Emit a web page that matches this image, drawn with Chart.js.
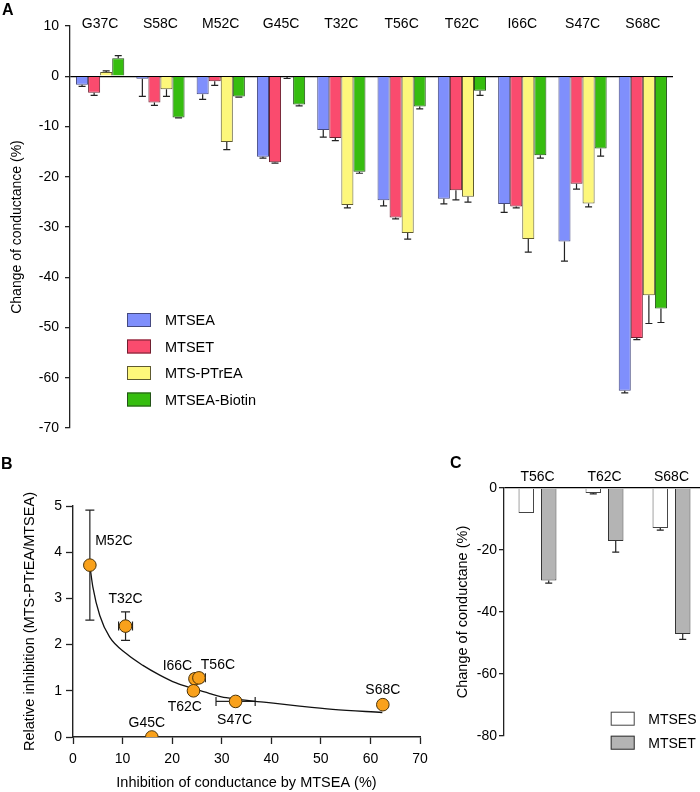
<!DOCTYPE html>
<html><head><meta charset="utf-8">
<script src="https://cdn.jsdelivr.net/npm/chart.js@4.4.1/dist/chart.umd.min.js"></script>
<style>
html,body{margin:0;padding:0;background:#fff;overflow:hidden;}
#wrap{position:relative;width:700px;height:792px;overflow:hidden;font-family:"Liberation Sans",Arial,sans-serif;}
canvas{position:absolute;}
.pl{position:absolute;font-weight:bold;font-size:16px;line-height:16px;color:#000;}
</style></head>
<body><div id="wrap">
<canvas id="cA" width="700" height="445" style="left:0;top:0"></canvas>
<canvas id="cB" width="440" height="322" style="left:0;top:470px"></canvas>
<canvas id="cC" width="255" height="300" style="left:450px;top:455px"></canvas>
<div class="pl" style="left:2px;top:2px">A</div>
<div class="pl" style="left:1px;top:456px">B</div>
<div class="pl" style="left:450px;top:455px">C</div>
</div>
<script>
// ---------- Panel A data ----------
const mutantsA = ['G37C','S58C','M52C','G45C','T32C','T56C','T62C','I66C','S47C','S68C'];
const mtsea      = [-1.7, -0.5, -3.6, -16.0, -10.7, -24.7, -24.4, -25.4, -32.9, -62.6];
const mtseaErr   = [0.3, 3.5, 1.0, 0.3, 1.4, 1.1, 1.0, 1.7, 3.9, 0.4];
const mtset      = [-3.3, -5.2, -1.0, -17.1, -12.3, -28.1, -22.7, -25.9, -21.4, -52.1];
const mtsetErr   = [0.5, 0.6, 0.8, 0.2, 0.5, 0.3, 1.9, 0.3, 1.05, 0.3];
const mtsPtrea   = [0.85, -2.6, -13.1, -0.15, -25.6, -31.2, -24.0, -32.4, -25.3, -43.6];
const mtsPtreaErr= [0.2, 1.4, 1.5, 0.3, 0.6, 1.2, 1.05, 2.6, 0.7, 5.6];
const biotin     = [3.6, -8.2, -4.05, -5.6, -19.0, -6.0, -2.9, -15.7, -14.4, -46.2];
const biotinErr  = [0.5, 0.1, 0.1, 0.3, 0.3, 0.5, 0.9, 0.6, 1.5, 2.8];
const ticksA = [10, 0, -10, -20, -30, -40, -50, -60, -70];

// ---------- Panel B data ----------
const mutantsB = ['M52C','T32C','I66C','T56C','T62C','S47C','G45C','S68C'];
const inhibX   = [3.4, 10.6, 24.6, 25.4, 24.3, 32.8, 15.9, 62.5];
const relInhY  = [3.72, 2.40, 1.26, 1.28, 1.00, 0.77, 0.00, 0.70];
const inhibXErr= [0.4, 1.4, 0.9, 1.3, 0.8, 3.95, 0, 0];
const relInhErr= [1.19, 0.31, 0.1, 0.1, 0, 0, 0, 0];
const fitX = [3.4, 4.0, 5.4, 7.4, 10.8, 14.1, 17.5, 20.8, 24.2, 27.6, 30.9, 39.0, 45.7, 52.4, 62.4];
const fitY = [3.71, 3.25, 2.63, 2.16, 1.80, 1.55, 1.34, 1.17, 1.05, 0.94, 0.85, 0.75, 0.67, 0.60, 0.53];

// ---------- Panel C data ----------
const mutantsC = ['T56C','T62C','S68C'];
const mtsesC    = [-8.1, -1.6, -12.9];
const mtsesCErr = [0, 0.3, 0.7];
const mtsetC    = [-29.8, -17.1, -47.1];
const mtsetCErr = [0.9, 3.6, 1.7];

// ---------- styles ----------
const FONT = '"Liberation Sans", Arial, sans-serif';
const AX = '#222';

const errorBars = {
  id: 'errorBars',
  afterDatasetsDraw(chart, args, opts) {
    const ctx = chart.ctx, ys = chart.scales.y;
    chart.data.datasets.forEach((ds, di) => {
      if (!ds.errors) return;
      const meta = chart.getDatasetMeta(di);
      meta.data.forEach((bar, i) => {
        const v = ds.data[i], e = ds.errors[i];
        if (!e) return;
        const end = v + (v < 0 ? -e : e);
        const x = bar.x, y0 = ys.getPixelForValue(v), y1 = ys.getPixelForValue(end);
        ctx.save();
        ctx.strokeStyle = opts.color; ctx.lineWidth = opts.width;
        ctx.beginPath();
        ctx.moveTo(x, y0); ctx.lineTo(x, y1);
        ctx.moveTo(x - opts.cap / 2, y1); ctx.lineTo(x + opts.cap / 2, y1);
        ctx.stroke(); ctx.restore();
      });
    });
  }
};

const topLabels = {
  id: 'topLabels',
  afterDraw(chart, args, opts) {
    const ctx = chart.ctx, xs = chart.scales.x;
    ctx.save();
    ctx.font = opts.font; ctx.fillStyle = '#000';
    ctx.textAlign = 'center'; ctx.textBaseline = 'middle';
    chart.data.labels.forEach((l, i) => ctx.fillText(l, xs.getPixelForValue(i), opts.y));
    ctx.restore();
  }
};

const boxLegend = {
  id: 'boxLegend',
  afterDraw(chart, args, opts) {
    const ctx = chart.ctx;
    ctx.save();
    ctx.font = opts.font; ctx.textBaseline = 'middle'; ctx.textAlign = 'left';
    chart.data.datasets.forEach((ds, i) => {
      const cy = opts.y + i * opts.gap;
      ctx.fillStyle = ds.backgroundColor;
      ctx.fillRect(opts.x, cy - 7, 24, 14);
      ctx.strokeStyle = ds.borderColor; ctx.lineWidth = 1;
      ctx.strokeRect(opts.x + 0.5, cy - 6.5, 23, 13);
      ctx.fillStyle = '#000';
      ctx.fillText(ds.label, opts.x + opts.textDx, cy + 1);
    });
    ctx.restore();
  }
};

// ---------- Chart A ----------
new Chart(document.getElementById('cA'), {
  type: 'bar',
  data: {
    labels: mutantsA,
    datasets: [
      {label: 'MTSEA', data: mtsea, errors: mtseaErr, backgroundColor: '#7f8ffc', borderColor: '#454a80', borderWidth: 1},
      {label: 'MTSET', data: mtset, errors: mtsetErr, backgroundColor: '#fa4b6e', borderColor: '#6e2030', borderWidth: 1},
      {label: 'MTS-PTrEA', data: mtsPtrea, errors: mtsPtreaErr, backgroundColor: '#fdf77b', borderColor: '#5e5a30', borderWidth: 1},
      {label: 'MTSEA-Biotin', data: biotin, errors: biotinErr, backgroundColor: '#36bd0f', borderColor: '#24501a', borderWidth: 1}
    ]
  },
  options: {
    responsive: false, animation: false, devicePixelRatio: 1,
    layout: {padding: {top: 26, bottom: 17, right: 27, left: 0}},
    datasets: {bar: {categoryPercentage: 0.8, barPercentage: 1.0}},
    plugins: {
      legend: {display: false}, tooltip: {enabled: false},
      errorBars: {color: '#222', width: 1.2, cap: 7},
      topLabels: {font: '14px ' + FONT, y: 24},
      boxLegend: {font: '14.5px ' + FONT, x: 127, y: 320, gap: 26.5, textDx: 38}
    },
    scales: {
      x: {display: false},
      y: {
        min: -70, max: 10,
        afterBuildTicks: s => { s.ticks = ticksA.map(v => ({value: v})); },
        afterFit: s => { s.width = 70; },
        ticks: {font: {family: FONT, size: 14}, color: '#000', padding: 6},
        grid: {color: c => (c.tick && c.tick.value === 0) ? '#000' : 'rgba(0,0,0,0)', lineWidth: 1.3, tickColor: AX, tickLength: 5, tickWidth: 1.3},
        border: {display: true, color: AX, width: 1.3},
        title: {display: true, text: 'Change of conductance (%)', font: {family: FONT, size: 14}, color: '#000', padding: {top: 8.5, bottom: 0}}
      }
    }
  },
  plugins: [errorBars, topLabels, boxLegend]
});

// ---------- Chart B ----------
const ptLabelOffsets = {M52C: [24, -24], T32C: [0, -27], I66C: [-17.5, -13], T56C: [19, -13], T62C: [-8.7, 16.7], S47C: [-1, 19], G45C: [-5, -14], S68C: [0, -15]};
const scatterExtras = {
  id: 'scatterExtras',
  beforeDatasetsDraw(chart) {
    const ctx = chart.ctx, xs = chart.scales.x, ys = chart.scales.y;
    ctx.save(); ctx.strokeStyle = '#222'; ctx.lineWidth = 1.2;
    inhibX.forEach((x, i) => {
      const px = xs.getPixelForValue(x), py = ys.getPixelForValue(relInhY[i]);
      ctx.beginPath();
      if (relInhErr[i]) {
        const a = ys.getPixelForValue(relInhY[i] + relInhErr[i]), b = ys.getPixelForValue(relInhY[i] - relInhErr[i]);
        ctx.moveTo(px, a); ctx.lineTo(px, b);
        ctx.moveTo(px - 4.5, a); ctx.lineTo(px + 4.5, a);
        ctx.moveTo(px - 4.5, b); ctx.lineTo(px + 4.5, b);
      }
      if (inhibXErr[i]) {
        const a = xs.getPixelForValue(x - inhibXErr[i]), b = xs.getPixelForValue(x + inhibXErr[i]);
        ctx.moveTo(a, py); ctx.lineTo(b, py);
        ctx.moveTo(a, py - 4.5); ctx.lineTo(a, py + 4.5);
        ctx.moveTo(b, py - 4.5); ctx.lineTo(b, py + 4.5);
      }
      ctx.stroke();
    });
    ctx.restore();
  },
  afterDraw(chart) {
    const ctx = chart.ctx, xs = chart.scales.x, ys = chart.scales.y;
    ctx.save(); ctx.font = '14px ' + FONT; ctx.fillStyle = '#000';
    ctx.textAlign = 'center'; ctx.textBaseline = 'middle';
    mutantsB.forEach((n, i) => {
      const o = ptLabelOffsets[n];
      ctx.fillText(n, xs.getPixelForValue(inhibX[i]) + o[0], ys.getPixelForValue(relInhY[i]) + o[1]);
    });
    ctx.restore();
  }
};

new Chart(document.getElementById('cB'), {
  type: 'scatter',
  data: {
    datasets: [
      {data: inhibX.map((x, i) => ({x: x, y: relInhY[i]})), backgroundColor: '#f9a11b', borderColor: '#4a3208', borderWidth: 1, pointRadius: 6.3},
      {data: fitX.map((x, i) => ({x: x, y: fitY[i]})), showLine: true, pointRadius: 0, borderColor: '#111', borderWidth: 1.3, cubicInterpolationMode: 'monotone', fill: false}
    ]
  },
  options: {
    responsive: false, animation: false, devicePixelRatio: 1,
    layout: {padding: {top: 36, right: 20, bottom: 0, left: 0}},
    plugins: {legend: {display: false}, tooltip: {enabled: false}},
    scales: {
      x: {
        type: 'linear', min: 0, max: 70,
        afterFit: s => { s.height = 55; },
        ticks: {stepSize: 10, font: {family: FONT, size: 14}, color: '#000', padding: 7, maxRotation: 0},
        grid: {drawOnChartArea: false, tickColor: AX, tickLength: 7, tickWidth: 1.3},
        border: {display: true, color: AX, width: 1.4},
        title: {display: true, text: 'Inhibition of conductance by MTSEA (%)', font: {family: FONT, size: 14.5}, color: '#000', padding: {top: 0, bottom: 0}}
      },
      y: {
        type: 'linear', min: 0, max: 5,
        afterFit: s => { s.width = 73; },
        ticks: {stepSize: 1, font: {family: FONT, size: 14}, color: '#000', padding: 4},
        grid: {drawOnChartArea: false, tickColor: AX, tickLength: 7, tickWidth: 1.3},
        border: {display: true, color: AX, width: 1.4},
        title: {display: true, text: 'Relative inhibition (MTS-PTrEA/MTSEA)', font: {family: FONT, size: 14.5}, color: '#000', padding: {top: 21, bottom: 0}}
      }
    }
  },
  plugins: [scatterExtras]
});

// ---------- Chart C ----------
new Chart(document.getElementById('cC'), {
  type: 'bar',
  data: {
    labels: mutantsC,
    datasets: [
      {label: 'MTSES', data: mtsesC, errors: mtsesCErr, backgroundColor: '#ffffff', borderColor: '#444', borderWidth: 1},
      {label: 'MTSET', data: mtsetC, errors: mtsetCErr, backgroundColor: '#b4b4b4', borderColor: '#333', borderWidth: 1}
    ]
  },
  options: {
    responsive: false, animation: false, devicePixelRatio: 1,
    layout: {padding: {top: 33, bottom: 19, right: 0, left: 0}},
    datasets: {bar: {categoryPercentage: 0.67, barPercentage: 0.69}},
    plugins: {
      legend: {display: false}, tooltip: {enabled: false},
      errorBars: {color: '#222', width: 1.2, cap: 7},
      topLabels: {font: '14px ' + FONT, y: 21.7},
      boxLegend: {font: '14px ' + FONT, x: 160.7, y: 263.7, gap: 24, textDx: 37.6}
    },
    scales: {
      x: {display: false},
      y: {
        min: -80, max: 0,
        afterFit: s => { s.width = 54; },
        ticks: {stepSize: 20, font: {family: FONT, size: 14}, color: '#000', padding: 2},
        grid: {color: c => (c.tick && c.tick.value === 0) ? '#000' : 'rgba(0,0,0,0)', lineWidth: 1.3, tickColor: AX, tickLength: 5, tickWidth: 1.3},
        border: {display: true, color: AX, width: 1.3},
        title: {display: true, text: 'Change of conductane (%)', font: {family: FONT, size: 14.5}, color: '#000', padding: {top: 4.6, bottom: 0}}
      }
    }
  },
  plugins: [errorBars, topLabels, boxLegend]
});
</script>
</body></html>
